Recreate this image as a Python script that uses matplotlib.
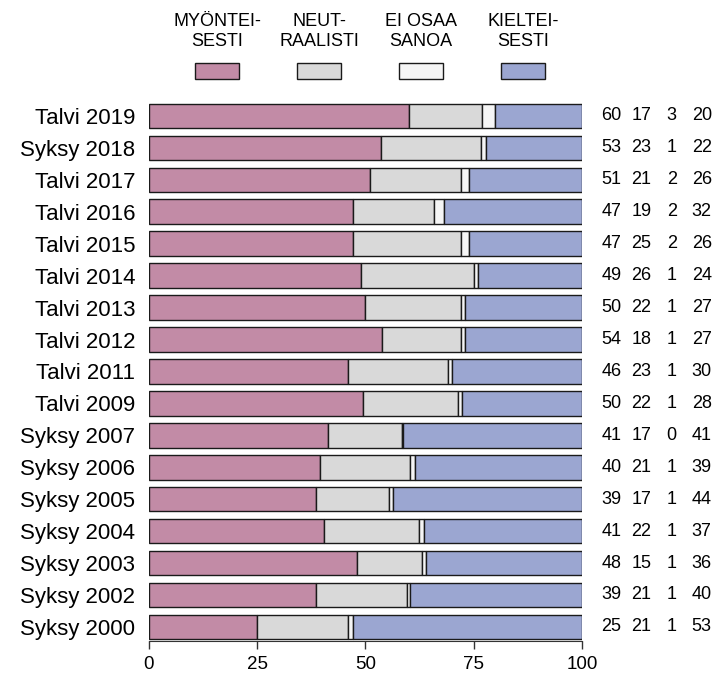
import matplotlib
matplotlib.use("Agg")
import matplotlib.pyplot as plt
import numpy as np
from matplotlib.patches import Rectangle

plt.rcParams["font.family"] = ["Liberation Sans", "DejaVu Sans"]

categories = ["Talvi 2019", "Syksy 2018", "Talvi 2017", "Talvi 2016", "Talvi 2015",
              "Talvi 2014", "Talvi 2013", "Talvi 2012", "Talvi 2011", "Talvi 2009",
              "Syksy 2007", "Syksy 2006", "Syksy 2005", "Syksy 2004", "Syksy 2003",
              "Syksy 2002", "Syksy 2000"]

# segment lengths
myonteisesti = [60.0, 53.5, 51.0, 47.0, 47.0, 48.9, 49.9, 53.9, 45.9, 49.5,
                41.4, 39.6, 38.6, 40.5, 48.0, 38.6, 25.0]
neutraalisti = [17.0, 23.2, 21.0, 18.9, 25.0, 26.2, 22.1, 18.1, 23.2, 21.8,
                17.1, 20.7, 16.8, 21.8, 15.0, 20.9, 21.0]
ei_osaa = [3.0, 1.1, 2.0, 2.2, 2.0, 0.8, 1.0, 1.0, 0.9, 0.9,
           0.2, 1.1, 1.0, 1.1, 0.9, 0.8, 1.0]
kielteisesti = [20.0, 22.2, 26.0, 31.9, 26.0, 24.1, 27.0, 27.0, 30.0, 27.8,
                41.3, 38.6, 43.6, 36.6, 36.1, 39.7, 53.0]

# printed values on the right
lab_my = [60, 53, 51, 47, 47, 49, 50, 54, 46, 50, 41, 40, 39, 41, 48, 39, 25]
lab_ne = [17, 23, 21, 19, 25, 26, 22, 18, 23, 22, 17, 21, 17, 22, 15, 21, 21]
lab_eo = [3, 1, 2, 2, 2, 1, 1, 1, 1, 1, 0, 1, 1, 1, 1, 1, 1]
lab_ki = [20, 22, 26, 32, 26, 24, 27, 27, 30, 28, 41, 39, 44, 37, 36, 40, 53]

series_names = ["MYÖNTEI-\nSESTI", "NEUT-\nRAALISTI", "EI OSAA\nSANOA", "KIELTEI-\nSESTI"]
colors = ["#C28BA6", "#D9D9D9", "#F5F5F5", "#9BA6D1"]

fig = plt.figure(figsize=(7.18, 6.79), dpi=100)
ax = fig.add_axes([0.2075, 0.0560, 0.6031, 0.7967])

y = np.arange(len(categories))
left = np.zeros(len(categories))
for vals, col in zip([myonteisesti, neutraalisti, ei_osaa, kielteisesti], colors):
    ax.barh(y, vals, left=left, height=0.77, color=col, edgecolor="#1a1a1a", linewidth=1.0)
    left += np.array(vals)

# numbers at the right
for j, labs in enumerate([lab_my, lab_ne, lab_eo, lab_ki]):
    for i, v in enumerate(labs):
        ax.text(106.8 + 6.95 * j, i, str(v), ha="center", va="center",
                fontsize=13, clip_on=False)

# legend above the bars
for k, (name, col) in enumerate(zip(series_names, colors)):
    xc = 15.7 + 23.55 * k
    ax.add_patch(Rectangle((xc - 5.1, -1.41 - 0.25), 10.2, 0.5, facecolor=col,
                           edgecolor="#1a1a1a", linewidth=1.0, clip_on=False))
    ax.text(xc, -2.65, name, ha="center", va="center", fontsize=13,
            linespacing=1.2, clip_on=False,
            family=["Liberation Sans Narrow", "Liberation Sans", "DejaVu Sans"])

ax.set_xlim(0, 100)
ax.set_ylim(len(categories) - 1 + 0.44, -0.5)
ax.set_yticks(y)
ax.set_yticklabels(categories, fontsize=16)
ax.tick_params(axis="y", length=0, pad=10)
ax.set_xticks([0, 25, 50, 75, 100])
ax.tick_params(axis="x", length=6, width=1.0, color="#333333", labelsize=13.5, pad=5)
for s in ["top", "right", "left"]:
    ax.spines[s].set_visible(False)
ax.spines["bottom"].set_color("#333333")
ax.spines["bottom"].set_bounds(0, 100)

fig.savefig("out.png", dpi=100)
